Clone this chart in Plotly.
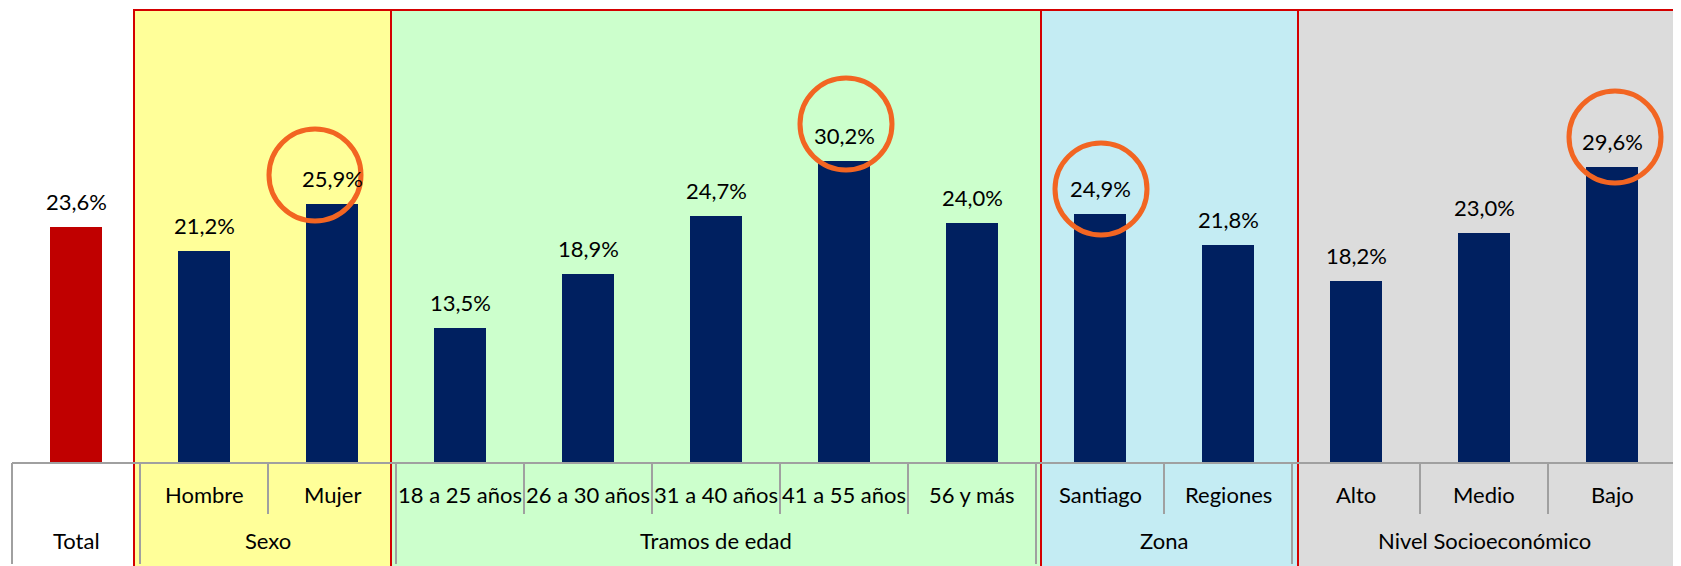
import plotly.graph_objects as go

# ---------------- data ----------------
categories = ["Total", "Hombre", "Mujer", "18 a 25 años", "26 a 30 años", "31 a 40 años",
              "41 a 55 años", "56 y más", "Santiago", "Regiones", "Alto", "Medio", "Bajo"]
values = [23.6, 21.2, 25.9, 13.5, 18.9, 24.7, 30.2, 24.0, 24.9, 21.8, 18.2, 23.0, 29.6]
group_names = ["Total", "Sexo", "Tramos de edad", "Zona", "Nivel Socioeconómico"]
group_sizes = [1, 2, 5, 2, 3]
highlighted = ["Mujer", "41 a 55 años", "Santiago", "Bajo"]

# ---------------- style ----------------
W, H = 1681, 566           # figure size
OFF = 8                    # page body margin offset
# page coordinates of plot area
P_LEFT, P_RIGHT, P_TOP, P_BOTTOM = 12, 1676, 9, 463
ML = P_LEFT - OFF
MT = P_TOP - OFF
MR = W - (P_RIGHT - OFF)
MB = H - (P_BOTTOM - OFF)
PW = P_RIGHT - P_LEFT
PH = P_BOTTOM - P_TOP
YMAX = PH / 10.0  # 10 px per percentage point
PAGE_W, PAGE_H = 1681, 566
FONT = "Lato, Carlito, Calibri, 'Open Sans', sans-serif"
FS = 22
group_fill = {"Total": None, "Sexo": "#FFFF99", "Tramos de edad": "#CCFFCC",
              "Zona": "#C4ECF3", "Nivel Socioeconómico": "#DCDCDC"}
red_line_shift = {"Sexo": -6, "Tramos de edad": -5, "Zona": 5, "Nivel Socioeconómico": 6}
circle_offset = {"Mujer": (-17, 29), "41 a 55 años": (2, 37), "Santiago": (1, 25), "Bajo": (3, 30)}
n = len(categories)
catw = PW / n


def px_x(boundary_index):
    # page x of a category boundary
    return P_LEFT + boundary_index * catw


def paper_x(px):
    return (px - P_LEFT) / PW


def paper_y(py):
    return (P_BOTTOM - py) / PH


def fmt(v):
    return f"{v:.1f}".replace(".", ",") + "%"


colors = ["#C00000" if c == "Total" else "#002060" for c in categories]

fig = go.Figure()
fig.add_trace(go.Bar(
    x=list(range(n)), y=values, width=0.4,
    marker=dict(color=colors, line=dict(width=0)),
    hoverinfo="skip", showlegend=False,
))

shapes = []
annotations = []

start = 0
group_bounds = []
for g, size in zip(group_names, group_sizes):
    group_bounds.append((g, start, start + size))
    start += size

# group backgrounds
for idx, (g, s, e) in enumerate(group_bounds):
    if group_fill[g] is None:
        continue
    left = px_x(s) + red_line_shift[g]
    if idx + 1 < len(group_bounds):
        ng = group_bounds[idx + 1][0]
        right = px_x(e) + red_line_shift[ng]
    else:
        right = PAGE_W
    shapes.append(dict(type="rect", xref="paper", yref="paper",
                       x0=paper_x(left), x1=paper_x(right),
                       y0=paper_y(PAGE_H), y1=paper_y(P_TOP),
                       fillcolor=group_fill[g], line=dict(width=0), layer="below"))
# red separators
for idx, (g, s, e) in enumerate(group_bounds):
    if g in red_line_shift:
        xl = paper_x(px_x(s) + red_line_shift[g])
        shapes.append(dict(type="line", xref="paper", yref="paper",
                           x0=xl, x1=xl, y0=paper_y(PAGE_H), y1=paper_y(P_TOP),
                           line=dict(color="#D40000", width=2), layer="below"))
first_red = px_x(group_bounds[1][1]) + red_line_shift[group_bounds[1][0]]
shapes.append(dict(type="line", xref="paper", yref="paper",
                   x0=paper_x(first_red), x1=paper_x(PAGE_W),
                   y0=paper_y(P_TOP + 1), y1=paper_y(P_TOP + 1),
                   line=dict(color="#D40000", width=2), layer="below"))

# axis line and tick separators
axis_color = "#A0A0A0"
shapes.append(dict(type="line", xref="paper", yref="paper", x0=0, x1=1, y0=0, y1=0,
                   line=dict(color=axis_color, width=2)))
group_edges = set()
for g, s, e in group_bounds:
    group_edges.add(s)
    group_edges.add(e)
for b in range(n + 1):
    long_tick = b in group_edges
    bottom = PAGE_H - 2 if long_tick else P_BOTTOM + 51
    xb = paper_x(px_x(b))
    shapes.append(dict(type="line", xref="paper", yref="paper", x0=xb, x1=xb,
                       y0=paper_y(P_BOTTOM), y1=paper_y(bottom),
                       line=dict(color=axis_color, width=2)))

# category labels
row1_y = paper_y(494)
row2_y = paper_y(540)
for g, s, e in group_bounds:
    for i in range(s, e):
        if not (e - s == 1 and categories[i] == g):
            annotations.append(dict(xref="x", yref="paper", x=i, y=row1_y, text=categories[i],
                                    showarrow=False, xanchor="center", yanchor="middle",
                                    font=dict(family=FONT, size=FS, color="black")))
    annotations.append(dict(xref="x", yref="paper", x=(s + e - 1) / 2, y=row2_y, text=g,
                            showarrow=False, xanchor="center", yanchor="middle",
                            font=dict(family=FONT, size=FS, color="black")))

# value labels
for i, v in enumerate(values):
    annotations.append(dict(xref="x", yref="y", x=i, y=v, text=fmt(v), showarrow=False,
                            xanchor="center", yanchor="middle", yshift=26,
                            font=dict(family=FONT, size=FS, color="black")))

# highlight circles
R = 46
for c in highlighted:
    i = categories.index(c)
    dx, dy = circle_offset[c]
    shapes.append(dict(type="circle", xref="x", yref="y", xsizemode="pixel", ysizemode="pixel",
                       xanchor=i, yanchor=values[i],
                       x0=dx - R, x1=dx + R, y0=dy - R, y1=dy + R,
                       line=dict(color="#F26522", width=5)))

fig.update_layout(
    width=W, height=H,
    margin=dict(l=ML, r=MR, t=MT, b=MB, pad=0),
    paper_bgcolor="white", plot_bgcolor="rgba(0,0,0,0)",
    xaxis=dict(range=[-0.5, n - 0.5], showticklabels=False, showgrid=False, zeroline=False,
               showline=False, ticks="", fixedrange=True),
    yaxis=dict(range=[0, YMAX], showticklabels=False, showgrid=False, zeroline=False,
               showline=False, ticks="", fixedrange=True),
    shapes=shapes, annotations=annotations, bargap=0,
)

fig.write_html("out.html")
